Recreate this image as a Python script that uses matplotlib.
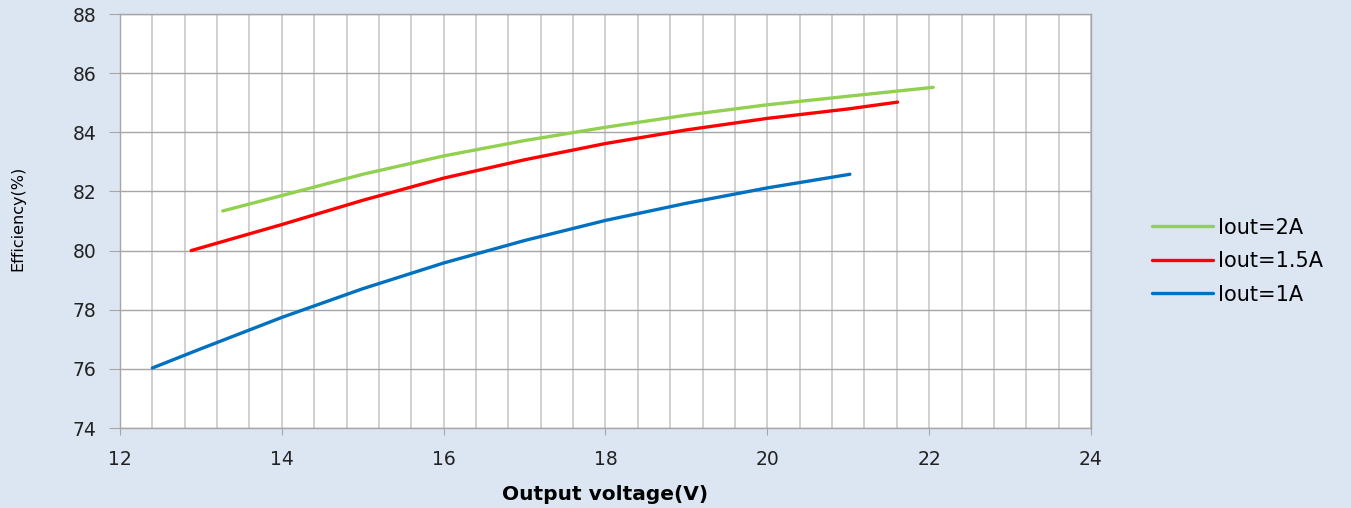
import matplotlib.pyplot as plt
import numpy as np
from matplotlib.ticker import MultipleLocator

v_2a = [13.27, 14, 15, 16, 17, 18, 19, 20, 21, 22.05]
eff_2a = [81.34, 81.86, 82.58, 83.2, 83.72, 84.17, 84.58, 84.93, 85.22, 85.52]

v_15a = [12.88, 14, 15, 16, 17, 18, 19, 20, 21, 21.61]
eff_15a = [80.0, 80.88, 81.7, 82.45, 83.07, 83.62, 84.08, 84.47, 84.79, 85.02]

v_1a = [12.4, 13, 14, 15, 16, 17, 18, 19, 20, 21.02]
eff_1a = [76.03, 76.68, 77.74, 78.71, 79.58, 80.34, 81.02, 81.6, 82.12, 82.58]

labels = ['Iout=2A', 'Iout=1.5A', 'Iout=1A']
colors = ['#92d050', '#ff0000', '#0070c0']

bg = '#dce6f2'
fig = plt.figure(figsize=(13.51, 5.08), dpi=100, facecolor=bg)
ax = fig.add_axes([120/1351, 1-428/508, (1091-120)/1351, (428-14)/508])
ax.set_facecolor('white')

for v, e, lab, c in zip([v_2a, v_15a, v_1a], [eff_2a, eff_15a, eff_1a], labels, colors):
    ax.plot(v, e, color=c, lw=2.4, label=lab, solid_capstyle='round', solid_joinstyle='round')

ax.set_xlim(12, 24)
ax.set_ylim(74, 88)
ax.xaxis.set_major_locator(MultipleLocator(2))
ax.xaxis.set_minor_locator(MultipleLocator(0.4))
ax.yaxis.set_major_locator(MultipleLocator(2))

ax.grid(which='major', axis='y', color='#a6a6a6', lw=1.0)
ax.grid(which='both', axis='x', color='#c8c8c8', lw=1.2)
ax.set_axisbelow(True)

for s in ax.spines.values():
    s.set_color('#a6a6a6')
    s.set_linewidth(1.0)

ax.tick_params(axis='y', which='major', direction='out', length=8, color='#a6a6a6',
               pad=9, labelsize=13.5, labelcolor='#222222')
ax.tick_params(axis='x', which='major', direction='out', length=5, color='#a6a6a6',
               pad=11, labelsize=13.5, labelcolor='#222222')
ax.tick_params(axis='x', which='minor', length=0)

ax.set_xlabel('Output voltage(V)', fontsize=14.5, fontweight='bold', labelpad=11)
fig.text(18/1351, 1-218/508, 'Efficiency(%)', rotation=90, ha='center', va='center',
         fontsize=11.5, fontfamily='Liberation Sans Narrow', color='#000000')

leg = ax.legend(loc='center left', bbox_to_anchor=(1.0436, 0.403), frameon=False,
                fontsize=15, handlelength=2.9, handletextpad=0.25, labelspacing=0.65)

fig.savefig('out.png', dpi=100, facecolor=bg)
